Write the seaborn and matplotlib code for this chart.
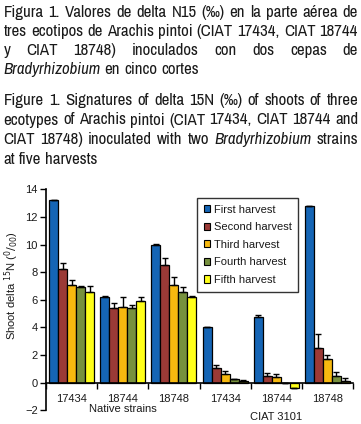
import matplotlib
matplotlib.use("Agg")
import matplotlib.pyplot as plt
import seaborn as sns
import pandas as pd
import numpy as np
from matplotlib.patches import Patch
from matplotlib import font_manager as fm

# ---------------- data ----------------
groups = ["N-17434", "N-18744", "N-18748", "C-17434", "C-18744", "C-18748"]
tick_labels = ["17434", "18744", "18748", "17434", "18744", "18748"]
harvests = ["First harvest", "Second harvest", "Third harvest", "Fourth harvest", "Fifth harvest"]
first = [13.2, 6.2, 10.0, 4.0, 4.75, 12.8]
second = [8.2, 5.4, 8.5, 1.05, 0.5, 2.5]
third = [7.1, 5.5, 7.1, 0.65, 0.4, 1.7]
fourth = [6.95, 5.4, 6.6, 0.25, -0.05, 0.5]
fifth = [6.6, 5.9, 6.2, 0.12, -0.4, 0.15]
err_first = [0.05, 0.05, 0.03, 0.03, 0.15, 0.02]
err_second = [0.5, 0.4, 0.55, 0.25, 0.22, 1.0]
err_third = [0.3, 0.7, 0.55, 0.2, 0.2, 0.3]
err_fourth = [0.08, 0.2, 0.35, 0.05, 0.03, 0.3]
err_fifth = [0.4, 0.3, 0.05, 0.05, 0.0, 0.2]
group_titles = ["Native strains", "CIAT 3101"]
colors = ["#1565B5", "#9B3A36", "#F7B90F", "#77913E", "#FFFF1A"]

values = [first, second, third, fourth, fifth]
errors = [err_first, err_second, err_third, err_fourth, err_fifth]
rows = []
for h, vals in zip(harvests, values):
    for g, v in zip(groups, vals):
        rows.append({"group": g, "harvest": h, "value": v})
df = pd.DataFrame(rows)

W, H = 361, 424
fig = plt.figure(figsize=(W / 100, H / 100), dpi=100)
sns.set_style("white")
plt.rcParams["font.family"] = ["Liberation Sans", "DejaVu Sans"]
TXT = "#1a1a1a"

def fx(x):
    return x / W

def fy(y):
    return 1 - y / H

# axes: x 46..353 px, y 14 at 189.3, -2 at 410.3
ax = fig.add_axes([fx(46), fy(410.3), (353 - 46) / W, (410.3 - 189.3) / H])
sns.barplot(data=df, x="group", y="value", hue="harvest", order=groups,
            hue_order=harvests, palette=colors, edgecolor="black",
            linewidth=0.9, width=0.88, errorbar=None, ax=ax, saturation=1,
            legend=False)

for cont, errs in zip(ax.containers, errors):
    xs, hs = [], []
    for bar in cont:
        xs.append(bar.get_x() + bar.get_width() / 2)
        hs.append(bar.get_height())
    hs = np.array(hs)
    e = np.array(errs)
    ax.errorbar(xs, hs, yerr=[np.zeros_like(e), e], fmt="none", ecolor="black",
                elinewidth=1.0, capsize=2.3, capthick=1.0, zorder=1)

ax.set_ylim(-2, 14)
ax.set_xlim(-0.5, len(groups) - 0.5)
ax.set_yticks(range(-2, 15, 2))
ax.tick_params(axis="y", direction="out", length=4, width=1, colors="black",
               labelcolor=TXT, labelsize=8, pad=2, left=True)
ax.set_xticks(range(len(groups)))
ax.set_xticklabels(tick_labels)
ax.set_xticks(np.arange(-0.5, len(groups), 1.0), minor=True)
ax.tick_params(axis="x", which="major", length=0, labelsize=8, labelcolor=TXT, pad=8)
ax.tick_params(axis="x", which="minor", direction="out", length=4, width=1,
               colors="black", bottom=True)
ax.set_xlabel("")
ax.set_ylabel(r"Shoot delta $^{15}$N ($^{0}/_{00}$)", fontsize=8, color=TXT)
ax.yaxis.set_label_coords((21 - 46) / 307, (410.3 - 286) / 221)
for s in ["top", "right"]:
    ax.spines[s].set_visible(False)
ax.spines["bottom"].set_position(("data", 0))
ax.spines["bottom"].set_linewidth(1.2)
ax.spines["left"].set_linewidth(1.2)
ax.spines["bottom"].set_color("black")
ax.spines["left"].set_color("black")

handles = [Patch(facecolor=c, edgecolor="black", linewidth=0.8) for c in colors]
leg = ax.legend(handles, harvests, loc="upper left",
                bbox_to_anchor=((197 - 46) / 307, (410.3 - 198) / 221),
                borderaxespad=0, fontsize=8, frameon=True, fancybox=False,
                edgecolor="black", handlelength=0.6, handleheight=0.6,
                handletextpad=0.3, labelspacing=0.68, borderpad=0.6)
leg.get_frame().set_linewidth(1.0)
for t in leg.get_texts():
    t.set_color(TXT)

fig.text(fx(122.5), fy(409), group_titles[0], ha="center", va="center", fontsize=8, color=TXT)
fig.text(fx(276), fy(417), group_titles[1], ha="center", va="center", fontsize=8, color=TXT)

# ---------------- caption ----------------
def pick_font(style):
    best = None
    for f in fm.fontManager.ttflist:
        if f.style != style:
            continue
        try:
            wt = int(f.weight)
        except (TypeError, ValueError):
            wt = 400 if str(f.weight) in ("normal", "regular", "book") else 700
        if wt != 400:
            continue
        n = f.name
        if "Liberation" in n and "Narrow" in n:
            score = 0
        elif "Narrow" in n or "Condensed" in n:
            score = 1
        elif str(f.stretch) in ("condensed", "semi-condensed", "extra-condensed"):
            score = 2
        else:
            continue
        if best is None or score < best[0]:
            best = (score, f.fname)
    return best

reg = pick_font("normal")
ita = pick_font("italic") or pick_font("oblique")
if reg is not None:
    cap_reg = {"fname": reg[1]}
    cap_ita = {"fname": ita[1]} if ita is not None else {"fname": reg[1]}
else:
    cap_reg = {"family": ["Liberation Sans", "DejaVu Sans"], "style": "normal"}
    cap_ita = {"family": ["Liberation Sans", "DejaVu Sans"], "style": "italic"}

def fp(style, size):
    d = cap_ita if style == "italic" else cap_reg
    return fm.FontProperties(size=size, **d)

renderer = fig.canvas.get_renderer()
x0, x1 = 3.5, 358

def measure(s, style, size):
    t = fig.text(0, 0, s, fontproperties=fp(style, size))
    w = t.get_window_extent(renderer).width
    t.remove()
    return w

def words_of(s, style="normal"):
    return [(w, style) for w in s.split()]

cap_lines = [
    (words_of("Figura 1. Valores de delta N15 (‰) en la parte aérea de"), 17, True),
    (words_of("tres ecotipos de Arachis pintoi (CIAT 17434, CIAT 18744"), 36, True),
    (words_of("y CIAT 18748) inoculados con dos cepas de"), 55, True),
    ([("Bradyrhizobium", "italic")] + words_of("en cinco cortes"), 74, False),
    (words_of("Figure 1. Signatures of delta 15N (‰) of shoots of three"), 105, True),
    (words_of("ecotypes of Arachis pintoi (CIAT 17434, CIAT 18744 and"), 124.5, True),
    (words_of("CIAT 18748) inoculated with two") + [("Bradyrhizobium", "italic")] + words_of("strains"), 144, True),
    (words_of("at five harvests"), 164, False),
]

def natural_width(words, size):
    sp = measure("x x", "normal", size) - measure("xx", "normal", size)
    return sum(measure(w, st, size) for w, st in words) + sp * (len(words) - 1)

# calibrate size so the unjustified line 4 spans like the reference (~196 px)
CAP_SIZE = 11.0 * 196.0 / natural_width(cap_lines[3][0], 11.0)
widest = max(natural_width(w, CAP_SIZE) for w, _, _ in cap_lines)
if widest > (x1 - x0) * 0.99:
    CAP_SIZE = CAP_SIZE * (x1 - x0) * 0.99 / widest
space_w = measure("x x", "normal", CAP_SIZE) - measure("xx", "normal", CAP_SIZE)

def caption_line(words, y_base, justify=True):
    widths = [measure(w, st, CAP_SIZE) for w, st in words]
    if justify and len(words) > 1:
        gap = ((x1 - x0) - sum(widths)) / (len(words) - 1)
    else:
        gap = space_w
    x = x0
    for (w, st), wd in zip(words, widths):
        fig.text(fx(x), fy(y_base), w, fontproperties=fp(st, CAP_SIZE),
                 va="baseline", ha="left", color=TXT)
        x += wd + gap

for words, yb, j in cap_lines:
    caption_line(words, yb, j)

fig.savefig("out.png", dpi=100)
